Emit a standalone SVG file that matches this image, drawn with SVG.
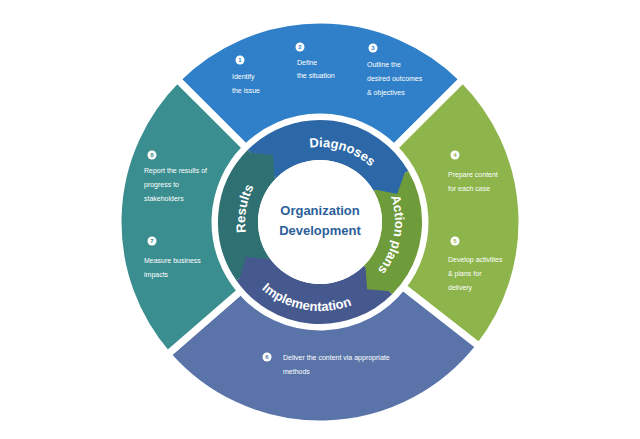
<svg xmlns="http://www.w3.org/2000/svg" width="640" height="439" viewBox="0 0 640 439">
<style>
.seg{stroke:#fff;stroke-width:7}
.ring{fill:none;stroke-width:40}
.t{font-family:"Liberation Sans",Arial,sans-serif;font-size:7px;fill:#fff}
.n{font-family:"Liberation Sans",Arial,sans-serif;font-size:6px;font-weight:bold;text-anchor:middle}
.rl{font-family:"Liberation Sans",Arial,sans-serif;font-size:13px;font-weight:bold;fill:#fff}
.c{font-family:"Liberation Sans",Arial,sans-serif;font-size:13px;font-weight:bold;fill:#2d5f9a;text-anchor:middle}
</style>
<defs>
<path id="pD" d="M282.5,157 A75,75 0 0 1 382.2,180.1"/>
<path id="pA" d="M385,184.5 A75,75 0 0 1 368.2,279.5"/>
<path id="pR" d="M258.6,265 A75,75 0 0 1 277,160.6"/>
<path id="pI" d="M242.9,266.5 A89,89 0 0 0 377.2,290.2"/>
</defs>
<rect width="640" height="439" fill="#fff"/>
<g id="top"><path class="seg" fill="#2f80c8" d="M177.2,79.2 A202,202 0 0 1 462.8,79.2 L394.2,147.8 A105,105 0 0 0 245.8,147.8 Z"/>
<circle cx="240" cy="60" r="4.5" fill="#fff"/><text class="n" x="240" y="62" fill="#2f80c8">1</text>
<text class="t" x="232" y="79">Identify</text><text class="t" x="232" y="93">the issue</text>
<circle cx="300" cy="47" r="4.5" fill="#fff"/><text class="n" x="300" y="49" fill="#2f80c8">2</text>
<text class="t" x="297" y="65">Define</text><text class="t" x="297" y="78">the situation</text>
<circle cx="373" cy="48" r="4.5" fill="#fff"/><text class="n" x="373" y="50" fill="#2f80c8">3</text>
<text class="t" x="367" y="67">Outline the</text><text class="t" x="367" y="81">desired outcomes</text><text class="t" x="367" y="95">&amp; objectives</text></g>
<g id="right"><path class="seg" fill="#8db54b" d="M462.8,79.2 A202,202 0 0 1 479.2,346.4 L402.7,286.7 A105,105 0 0 0 394.2,147.8 Z"/>
<circle cx="455" cy="155" r="4.5" fill="#fff"/><text class="n" x="455" y="157" fill="#8db54b">4</text>
<text class="t" x="448" y="177">Prepare content</text><text class="t" x="448" y="191">for each case</text>
<circle cx="455" cy="241" r="4.5" fill="#fff"/><text class="n" x="455" y="243" fill="#8db54b">5</text>
<text class="t" x="448" y="262">Develop activities</text><text class="t" x="448" y="276">&amp; plans for</text><text class="t" x="448" y="290">delivery</text></g>
<g id="bottom"><path class="seg" fill="#5a74aa" d="M479.2,346.4 A202,202 0 0 1 167.5,354.5 L240.7,290.9 A105,105 0 0 0 402.7,286.7 Z"/>
<circle cx="267" cy="357" r="4.5" fill="#fff"/><text class="n" x="267" y="359" fill="#5a74aa">6</text>
<text class="t" x="283" y="360">Deliver the content via appropriate</text><text class="t" x="283" y="374">methods</text></g>
<g id="left"><path class="seg" fill="#3b8e90" d="M167.5,354.5 A202,202 0 0 1 177.2,79.2 L245.8,147.8 A105,105 0 0 0 240.7,290.9 Z"/>
<circle cx="152" cy="155" r="4.5" fill="#fff"/><text class="n" x="152" y="157" fill="#3b8e90">8</text>
<text class="t" x="144" y="173">Report the results of</text><text class="t" x="144" y="187">progress to</text><text class="t" x="144" y="201">stakeholders</text>
<circle cx="152" cy="241" r="4.5" fill="#fff"/><text class="n" x="152" y="243" fill="#3b8e90">7</text>
<text class="t" x="144" y="263">Measure business</text><text class="t" x="144" y="277">impacts</text></g>
<g id="connectors">
<path class="ring" stroke="#2c68a8" d="M262,164 A82,82 0 0 1 391,181"/>
<path class="ring" stroke="#6f9c3a" d="M391,181 A82,82 0 0 1 378,280"/>
<path class="ring" stroke="#45598f" d="M378,280 A82,82 0 0 1 252.8,269"/>
<path class="ring" stroke="#2f7172" d="M252.8,269 A82,82 0 0 1 262,164"/>
<polygon fill="#2c68a8" points="372.6,189.1 406.5,167.9 397.1,194"/>
<polygon fill="#6f9c3a" points="365.3,264.3 394.6,291.6 367.1,289.2"/>
<polygon fill="#45598f" points="270.5,259.3 238.5,283.4 245.7,256.7"/>
<polygon fill="#2f7172" points="274.7,179.7 245.4,152.4 272.9,154.8"/>
</g>
<g id="labels">
<text class="rl"><textPath href="#pD" startOffset="55%" text-anchor="middle">Diagnoses</textPath></text>
<text class="rl"><textPath href="#pA" startOffset="50%" text-anchor="middle">Action plans</textPath></text>
<text class="rl"><textPath href="#pI" startOffset="50%" text-anchor="middle">Implementation</textPath></text>
<text class="rl"><textPath href="#pR" startOffset="50%" text-anchor="middle">Results</textPath></text>
</g>
<g id="center"><circle cx="320" cy="222" r="62" fill="#fff"/>
<text class="c" x="320" y="215">Organization</text><text class="c" x="320" y="235">Development</text></g>
</svg>
